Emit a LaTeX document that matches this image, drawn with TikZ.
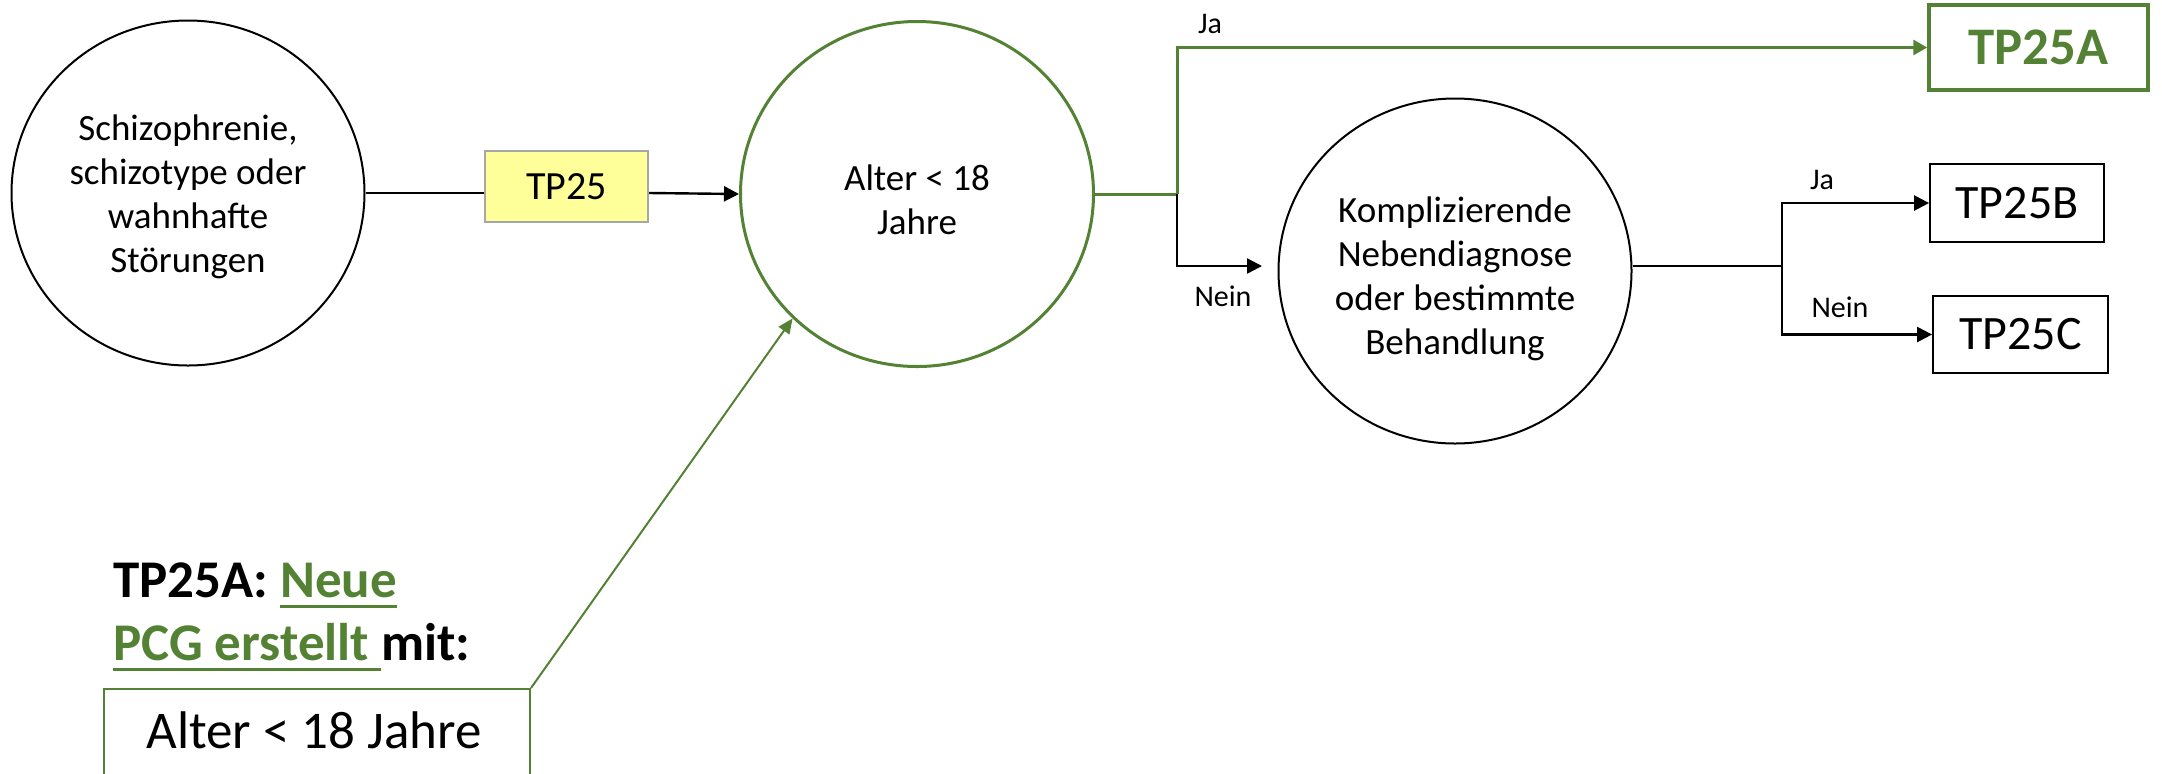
\documentclass[tikz,border=0pt]{standalone}
\usepackage{fontspec}
\setmainfont{Carlito}
\usetikzlibrary{shapes.geometric,arrows.meta}
\definecolor{pgreen}{HTML}{548235}
\definecolor{tpyellow}{HTML}{FFFF99}
\definecolor{tpgrey}{HTML}{A6A6A6}
\newcommand{\myul}[1]{\setbox0\hbox{#1}\rlap{\raisebox{-5.25pt}{\rule{\wd0}{1.5pt}}}\box0}
\begin{document}
\begin{tikzpicture}[x=0.5pt,y=-0.5pt,
  circ/.style={ellipse, draw, line width=1pt, minimum width=176.5pt, minimum height=172.5pt,
    inner sep=0pt},
  ctext/.style={inner sep=0pt, align=center, font=\fontsize{18.5}{22}\selectfont},
  outbox/.style={draw, line width=0.9pt, inner sep=0pt, font=\fontsize{24}{28}\selectfont},
  lab/.style={inner sep=0pt, font=\fontsize{15}{18}\selectfont},
  bl/.style={line width=1.2pt},
  gl/.style={line width=1.5pt, draw=pgreen},
  arr/.style={-{Triangle[length=7.5pt,width=7.5pt]}},
  bigtxt/.style={inner sep=0pt, font=\fontsize{26.5}{31.5}\selectfont}
]
\useasboundingbox (0,0) rectangle (2162,773);
\clip (0,0) rectangle (2162,773);

% main nodes
\node[circ] (schiz) at (188,193) {};
\node[ctext] (schiztext) at (188,197) {Schizophrenie,\\schizotype oder\\wahnhafte\\Störungen};
\node[draw=tpgrey, fill=tpyellow, line width=1pt, minimum width=81.5pt, minimum height=35.5pt,
  inner sep=0pt, font=\fontsize{20}{24}\selectfont] (tp25) at (566.5,186.5) {TP25};
\node[circ, draw=pgreen, line width=1.5pt] (alter) at (917,194) {};
\node[ctext] (altertext) at (917,200) {Alter < 18\\Jahre};
\node[circ] (komp) at (1455,271) {};
\node[ctext] (komptext) at (1455,279) {Komplizierende\\Nebendiagnose\\oder bestimmte\\Behandlung};
\node[draw=pgreen, line width=1.75pt, minimum width=109.5pt, minimum height=42.5pt, inner sep=0pt,
  text=pgreen, font=\fontsize{26.4}{30}\selectfont\bfseries] (tp25a) at (2038.5,47.5) {TP25A};
\node[outbox, minimum width=87pt, minimum height=39pt] (tp25b) at (2017,203) {TP25B};
\node[outbox, minimum width=87.5pt, minimum height=38.5pt] (tp25c) at (2020.5,334.5) {TP25C};

% labels
\node[lab] (ja1) at (1210,24) {Ja};
\node[lab] (nein1) at (1223,296) {Nein};
\node[lab] (ja2) at (1822,180) {Ja};
\node[lab] (nein2) at (1840,307) {Nein};

% connectors
\draw[bl] (schiz.east) -- (schiz.east -| tp25.west);
\draw[bl, arr] (schiz.east -| tp25.east) -- (alter.west);
\coordinate (split) at (1177,194);
\draw[gl] (alter.east) -- (split);
\draw[gl, -{Triangle[length=7pt,width=7.5pt]}] (split) |- (tp25a.west);
\coordinate (neinend) at (1262,266);
\draw[bl, arr] (split) |- (neinend);
\coordinate (split2) at (1782,266);
\draw[bl] (komp.east |- split2) -- (split2);
\draw[bl, arr] (split2) |- (tp25b.west);
\draw[bl, arr] (split2) |- (tp25c.west);

% bottom legend
\node[bigtxt, anchor=base west, font=\fontsize{26.5}{31.5}\selectfont\bfseries] (hd1) at (113,597)
  {TP25A: {\color{pgreen}\myul{Neue}}};
\node[bigtxt, anchor=base west, font=\fontsize{26.5}{31.5}\selectfont\bfseries] (hd2) at (113,660)
  {{\color{pgreen}\myul{PCG erstellt\ }}mit:};
\node[draw=pgreen, line width=1pt, anchor=north west, minimum width=213pt, minimum height=60pt,
  inner sep=0pt] (crit) at (103,688) {};
\node[bigtxt, anchor=base] (crittext) at (314,748) {Alter < 18 Jahre};
\draw[pgreen, line width=1pt, -{Triangle[length=7.5pt,width=6.5pt]}] (crit.north east) -- (alter.225);
\end{tikzpicture}
\end{document}
